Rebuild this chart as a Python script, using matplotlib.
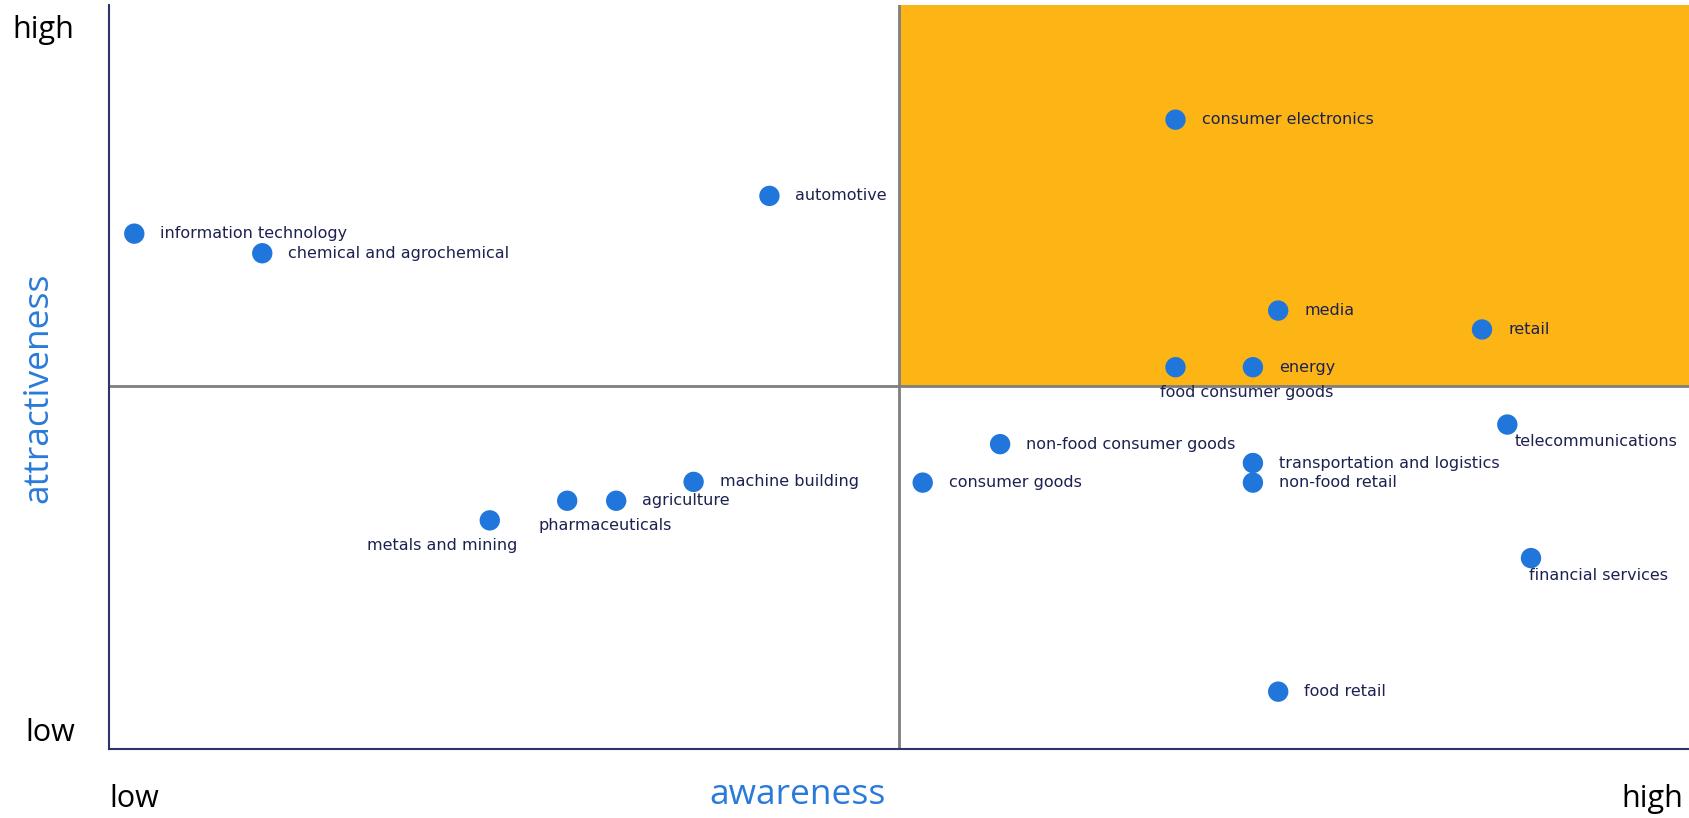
import matplotlib
matplotlib.use("Agg")
import matplotlib.pyplot as plt
from matplotlib.patches import Rectangle

# Industry positions: awareness (x) vs attractiveness (y), quadrant split at 5
industries = [
    "information technology", "chemical and agrochemical", "automotive",
    "machine building", "agriculture", "pharmaceuticals", "metals and mining",
    "consumer electronics", "media", "retail", "food consumer goods", "energy",
    "non-food consumer goods", "consumer goods", "transportation and logistics",
    "non-food retail", "telecommunications", "financial services", "food retail",
]
awareness = [0.16, 0.97, 4.18, 3.70, 3.21, 2.90, 2.41,
             6.75, 7.40, 8.69, 6.75, 7.24,
             5.64, 5.15, 7.24, 7.24, 8.85, 9.00, 7.40]
attractiveness = [7.10, 6.83, 7.62, 3.68, 3.42, 3.42, 3.15,
                  8.67, 6.04, 5.78, 5.26, 5.26,
                  4.20, 3.67, 3.94, 3.67, 4.47, 2.63, 0.79]

# label placement: (dx, dy) in pixels and horizontal alignment
label_pos = {
    "metals and mining": (28, -25, "right"),
    "pharmaceuticals": (-29, -25, "left"),
    "food consumer goods": (-16, -25, "left"),
    "telecommunications": (7, -17, "left"),
    "financial services": (-2, -17, "left"),
}

X_MID, Y_MID = 5.0, 5.0
X_MAX, Y_MAX = 10.0, 10.25

ORANGE = "#FDB515"
DOT = "#2176DB"
LABEL = "#1C2150"
TITLE = "#2A7AD9"
SPINE = "#2E3566"
GRID = "#7F7F7F"

W, H = 1689, 818
fig = plt.figure(figsize=(W / 100, H / 100), dpi=100)
ax = fig.add_axes([109 / W, 1 - 749 / H, (W - 109) / W, (749 - 5) / H])
ax.set_xlim(0, X_MAX)
ax.set_ylim(0, Y_MAX)

ax.add_patch(Rectangle((X_MID, Y_MID), X_MAX - X_MID, Y_MAX - Y_MID,
                       facecolor=ORANGE, edgecolor="none", zorder=0))
ax.axhline(Y_MID, color=GRID, lw=2.0, zorder=1)
ax.axvline(X_MID, color=GRID, lw=2.0, zorder=1)

ax.scatter(awareness, attractiveness, s=215, color=DOT, edgecolors="none", zorder=3)

for name, x, y in zip(industries, awareness, attractiveness):
    dx, dy, ha = label_pos.get(name, (26, 0, "left"))
    ax.annotate(name, (x, y), xytext=(dx * 0.72, dy * 0.72), textcoords="offset points",
                ha=ha, va="center", fontsize=11.5, color=LABEL,
                family="DejaVu Sans", zorder=4)

for side in ("top", "right"):
    ax.spines[side].set_visible(False)
for side in ("left", "bottom"):
    ax.spines[side].set_color(SPINE)
    ax.spines[side].set_linewidth(1.5)
ax.set_xticks([])
ax.set_yticks([])

tfont = ["Open Sans", "DejaVu Sans"]
fig.text(43 / W, 1 - 30 / H, "high", ha="center", va="center", fontsize=22, family=tfont, color="black")
fig.text(50 / W, 1 - 733 / H, "low", ha="center", va="center", fontsize=22, family=tfont, color="black")
fig.text(109 / W, 1 - 799 / H, "low", ha="left", va="center", fontsize=22, family=tfont, color="black")
fig.text(1683 / W, 1 - 799 / H, "high", ha="right", va="center", fontsize=22, family=tfont, color="black")
fig.text(798 / W, 1 - 795 / H, "awareness", ha="center", va="center", fontsize=25.5, family=tfont, color=TITLE)
fig.text(38 / W, 1 - 388 / H, "attractiveness", ha="center", va="center", rotation=90,
         fontsize=25.5, family=tfont, color=TITLE)

fig.savefig("out.png", dpi=100)
